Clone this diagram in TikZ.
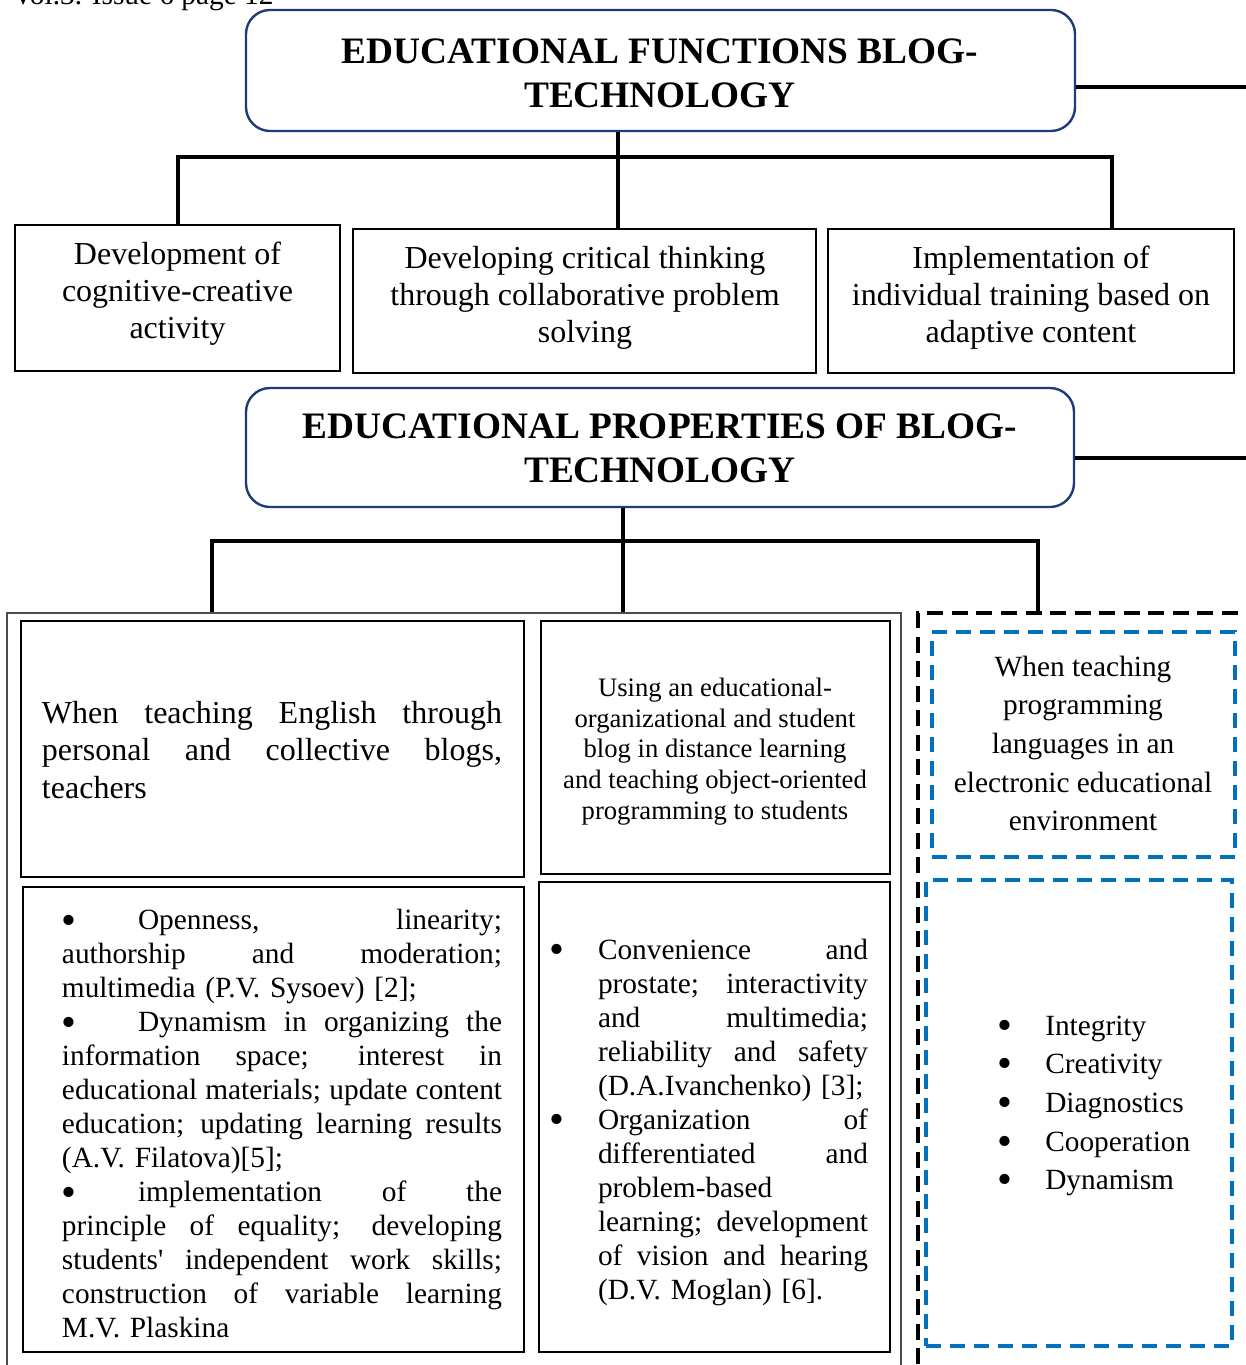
\documentclass[tikz,border=0pt]{standalone}
\usepackage{fontspec}
\setmainfont{Liberation Serif}
\usetikzlibrary{fit}
\definecolor{navyline}{HTML}{1F3A78}
\definecolor{dblue}{HTML}{0070C0}
\newcommand\JL[2]{\makebox[#1][s]{\spaceskip=0pt\xspaceskip=0pt #2}}
\newcommand\bigbul{\raisebox{-0.3ex}{\scalebox{1.45}{\textbullet}}}
\newcommand\BUL[1]{\makebox[#1][l]{\bigbul}}
\begin{document}
\begin{tikzpicture}[x=0.375pt,y=-0.375pt,
  titlebox/.style={draw=navyline, line width=0.9pt, rounded corners=9pt, inner sep=0pt},
  thinbox/.style={draw=black, line width=0.6pt, inner sep=0pt},
  thickbox/.style={draw=black, line width=1.1pt, inner sep=0pt},
  bluedash/.style={draw=dblue, line width=1.35pt, dash pattern=on 5.6pt off 3.4pt, inner sep=0pt},
  blkdash/.style={draw=black, line width=1.5pt, dash pattern=on 6pt off 3.2pt, inner sep=0pt},
  thinframe/.style={draw=black!70, line width=0.5pt, inner sep=0pt},
  conn/.style={line width=1.3pt},
  txt/.style={inner sep=0pt, align=center},
  titletxt/.style={txt, font=\fontsize{14}{16.5}\selectfont\bfseries},
  toptxt/.style={txt, font=\fontsize{12}{13.9}\selectfont}]
\useasboundingbox (0,0) rectangle (1246,1365);
\clip (0,0) rectangle (1246,1365);

% running header (cut off at the top edge, as in the page)
\node[anchor=base west, inner sep=0pt, font=\fontsize{11}{13}\selectfont] (hdr) at (12,5) {Vol.3. Issue 6 page 12};

% top title
\node[titlebox, fit={(246,10) (1075,131)}] (F1) {};
\node[titletxt] (F1t) at (660,73) {EDUCATIONAL FUNCTIONS BLOG-\\TECHNOLOGY};

% functions
\node[thinbox, fit={(15,225) (340,371)}] (A) {};
\node[thinbox, fit={(353,229) (816,373)}] (B) {};
\node[thinbox, fit={(828,229) (1234,373)}] (C) {};
\node[toptxt] (At) at (177.5,293.5) {Development of\\cognitive-creative\\activity};
\node[toptxt] (Bt) at (585,298) {Developing critical thinking\\through collaborative problem\\solving};
\node[toptxt] (Ct) at (1031,298) {Implementation of\\individual training based on\\adaptive content};

% second title
\node[titlebox, fit={(246,388) (1074,507)}] (F2) {};
\node[titletxt] (F2t) at (660,448) {EDUCATIONAL PROPERTIES OF BLOG-\\TECHNOLOGY};

% frames
\node[thinframe, fit={(7,613) (901,1420)}] (frameL) {};
\node[blkdash, fit={(918,613) (1300,1420)}] (frameR) {};

% left column
\node[thickbox, fit={(21,621) (524,877)}] (L1) {};
\node[txt, align=left, text width=172.5pt, font=\fontsize{12}{14}\selectfont] (L1t) at (272,750)
  {\JL{172.5pt}{When teaching English through}\\
   \JL{172.5pt}{personal and collective blogs,}\\
   teachers};
\node[thickbox, fit={(23,887) (524,1352)}] (L2) {};
\node[txt, align=left, text width=165pt, font=\fontsize{11}{12.75}\selectfont] (L2t) at (282,1124)
  {\JL{165pt}{\BUL{28.5pt}Openness, linearity;}\\
   \JL{165pt}{authorship and moderation;}\\
   multimedia (P.V. Sysoev) [2];\\
   \JL{165pt}{\BUL{28.5pt}Dynamism in organizing the}\\
   \JL{165pt}{information space; interest in}\\
   \JL{165pt}{educational materials; update content}\\
   \JL{165pt}{education; updating learning results}\\
   (A.V. Filatova)[5];\\
   \JL{165pt}{\BUL{28.5pt}implementation of the}\\
   \JL{165pt}{principle of equality; developing}\\
   \JL{165pt}{students\textquotesingle{} independent work skills;}\\
   \JL{165pt}{construction of variable learning}\\
   M.V. Plaskina};

% middle column
\node[thickbox, fit={(541,621) (890,874)}] (M1) {};
\node[txt, font=\fontsize{10}{11.5}\selectfont] (M1t) at (715,751.5)
  {Using an educational-\\organizational and student\\blog in distance learning\\and teaching object-oriented\\programming to students};
\node[thickbox, fit={(539,882) (890,1352)}] (M2) {};
\node[txt, align=left, text width=117pt, font=\fontsize{11}{12.75}\selectfont] (M2t) at (712,1122.5)
  {\hspace*{-2.6pt}\BUL{18.35pt}\JL{101.25pt}{Convenience and}\\
   \hspace*{15.75pt}\JL{101.25pt}{prostate; interactivity}\\
   \hspace*{15.75pt}\JL{101.25pt}{and multimedia;}\\
   \hspace*{15.75pt}\JL{101.25pt}{reliability and safety}\\
   \hspace*{15.75pt}(D.A.Ivanchenko) [3];\\
   \hspace*{-2.6pt}\BUL{18.35pt}\JL{101.25pt}{Organization of}\\
   \hspace*{15.75pt}\JL{101.25pt}{differentiated and}\\
   \hspace*{15.75pt}problem-based\\
   \hspace*{15.75pt}\JL{101.25pt}{learning; development}\\
   \hspace*{15.75pt}\JL{101.25pt}{of vision and hearing}\\
   \hspace*{15.75pt}(D.V. Moglan) [6].};

% right column
\node[bluedash, fit={(932,632) (1235,857)}] (R1) {};
\node[txt, font=\fontsize{11}{14.5}\selectfont] (R1t) at (1083,743.5)
  {When teaching\\programming\\languages in an\\electronic educational\\environment};
\node[bluedash, fit={(926,880) (1232,1346)}] (R2) {};
\node[txt, align=left, anchor=west, font=\fontsize{11}{14.5}\selectfont] (R2t) at (997,1106)
  {\BUL{17.9pt}Integrity\\
   \BUL{17.9pt}Creativity\\
   \BUL{17.9pt}Diagnostics\\
   \BUL{17.9pt}Cooperation\\
   \BUL{17.9pt}Dynamism};

% connectors, first level
\coordinate (b1L) at (178,157);
\coordinate (b1M) at (618,157);
\coordinate (b1R) at (1112,157);
\draw[conn] (b1M |- F1.south) -- (b1M |- B.north);
\draw[conn] (b1L |- A.north) -- (b1L) -- (b1R) -- (b1R |- C.north);
\coordinate (e1) at (1250,87);
\draw[conn] (e1 -| F1.east) -- (e1);

% connectors, second level
\coordinate (b2L) at (212,541);
\coordinate (b2M) at (623,541);
\coordinate (b2R) at (1038,541);
\draw[conn] (b2M |- F2.south) -- (b2M |- frameL.north);
\draw[conn] (b2L |- frameL.north) -- (b2L) -- (b2R) -- (b2R |- frameR.north);
\coordinate (e2) at (1250,458);
\draw[conn] (e2 -| F2.east) -- (e2);
\end{tikzpicture}
\end{document}
